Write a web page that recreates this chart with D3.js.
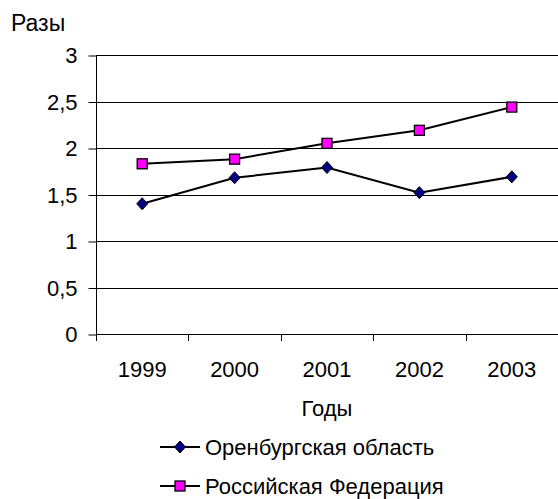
<!DOCTYPE html>
<html>
<head>
<meta charset="utf-8">
<script src="https://cdn.jsdelivr.net/npm/d3@7"></script>
<style>
  body { margin: 0; background: #fff; }
  text { font-family: "Liberation Sans", Arial, sans-serif; fill: #000; }
</style>
</head>
<body>
<script>
// ---------- data ----------
const years = ["1999", "2000", "2001", "2002", "2003"];
const orenburg = [1.40, 1.68, 1.79, 1.52, 1.69];
const russia = [1.83, 1.88, 2.05, 2.19, 2.44];
const yTicks = [0, 0.5, 1, 1.5, 2, 2.5, 3];
const seriesNames = ["Оренбургская область", "Российская Федерация"];

// ---------- setup ----------
const width = 558, height = 499;
const plot = { left: 96, right: 558, top: 55, bottom: 334 };
const fs = 22;

const svg = d3.select("body").append("svg")
    .attr("width", width)
    .attr("height", height);

const x = d3.scaleBand()
    .domain(years)
    .range([plot.left, plot.right]);

const y = d3.scaleLinear()
    .domain([0, 3])
    .range([plot.bottom, plot.top]);

// gridlines
svg.append("g")
  .selectAll("line")
  .data(yTicks.filter(d => d > 0))
  .join("line")
    .attr("x1", plot.left)
    .attr("x2", plot.right)
    .attr("y1", d => Math.round(y(d)) + 0.5)
    .attr("y2", d => Math.round(y(d)) + 0.5)
    .attr("stroke", "#000")
    .attr("stroke-width", 1);

// y axis
const fmt = d => String(d).replace(".", ",");
const yAxis = svg.append("g")
    .attr("transform", `translate(${plot.left + 0.5},0)`)
    .call(d3.axisLeft(y).tickValues(yTicks).tickFormat(fmt).tickSize(8).tickPadding(11))
    .call(g => g.select(".domain").attr("stroke", "#000").attr("d", `M0,${plot.top}V${plot.bottom}`));
yAxis.selectAll(".tick line").attr("y1", 0.5).attr("y2", 0.5).attr("stroke", "#000");
yAxis.selectAll("text").attr("font-size", fs).attr("dy", "0.36em");

// x axis
const xAxis = svg.append("g")
    .attr("transform", `translate(0,${plot.bottom + 0.5})`)
    .call(d3.axisBottom(x).tickSize(0).tickPadding(0))
    .call(g => g.select(".domain").attr("stroke", "#000").attr("d", `M${plot.left},0H${plot.right}`));
xAxis.selectAll("text").attr("font-size", fs).attr("dy", null).attr("y", 42);

// category boundary ticks
svg.append("g")
  .selectAll("line")
  .data(years)
  .join("line")
    .attr("x1", d => Math.round(x(d)) + 0.5)
    .attr("x2", d => Math.round(x(d)) + 0.5)
    .attr("y1", plot.bottom)
    .attr("y2", plot.bottom + 7)
    .attr("stroke", "#000");

// axis titles
svg.append("text")
    .attr("x", 11).attr("y", 31)
    .attr("font-size", fs + 1)
    .text("Разы");

svg.append("text")
    .attr("x", (plot.left + plot.right) / 2).attr("y", 416)
    .attr("text-anchor", "middle")
    .attr("font-size", fs)
    .text("Годы");

// ---------- series ----------
const cx = d => x(d) + x.bandwidth() / 2;
const line = d3.line()
    .x((d, i) => cx(years[i]))
    .y(d => y(d));

function diamond(g, px, py) {
  g.append("path")
    .attr("d", `M${px},${py - 6}L${px + 5.5},${py}L${px},${py + 6}L${px - 5.5},${py}Z`)
    .attr("fill", "#000080")
    .attr("stroke", "#000")
    .attr("stroke-width", 1);
}
function square(g, px, py) {
  g.append("rect")
    .attr("x", px - 5).attr("y", py - 5)
    .attr("width", 10).attr("height", 10)
    .attr("fill", "#ff00ff")
    .attr("stroke", "#000")
    .attr("stroke-width", 1.3);
}

svg.append("path")
    .datum(orenburg)
    .attr("d", line)
    .attr("fill", "none")
    .attr("stroke", "#000")
    .attr("stroke-width", 2);

svg.append("path")
    .datum(russia)
    .attr("d", line)
    .attr("fill", "none")
    .attr("stroke", "#000")
    .attr("stroke-width", 2);

const markers = svg.append("g");
orenburg.forEach((v, i) => diamond(markers, cx(years[i]), y(v)));
russia.forEach((v, i) => square(markers, cx(years[i]), y(v)));

// ---------- legend ----------
const legendY = [447, 486];
const markFns = [diamond, square];
seriesNames.forEach((name, i) => {
  const g = svg.append("g");
  g.append("line")
    .attr("x1", 160).attr("x2", 200)
    .attr("y1", legendY[i]).attr("y2", legendY[i])
    .attr("stroke", "#000").attr("stroke-width", 2);
  markFns[i](g, 180, legendY[i]);
  g.append("text")
    .attr("x", 205).attr("y", legendY[i])
    .attr("dy", "0.36em")
    .attr("font-size", fs)
    .text(name);
});
</script>
</body>
</html>
